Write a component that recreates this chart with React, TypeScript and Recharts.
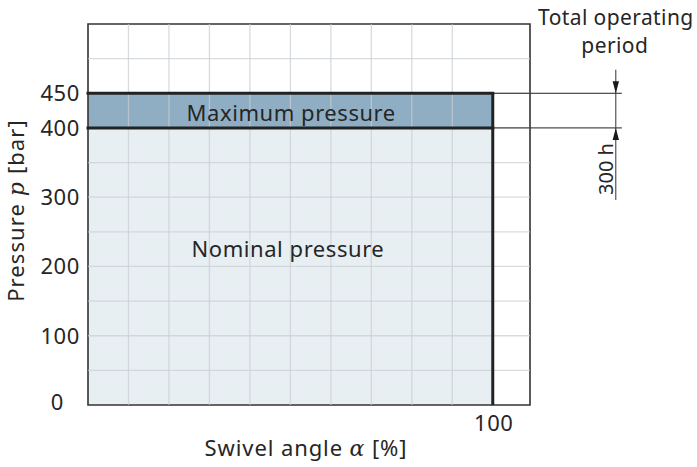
import React from 'react';
import { ComposedChart, Area, XAxis, YAxis, ReferenceLine, ReferenceDot, ReferenceArea, Label } from 'recharts';

// ---- data ----
const swivelAngle = [0, 100];
const nominalPressure = [400, 400];
const maximumPressure = [450, 450];
const yTicks = [0, 100, 200, 300, 400, 450];
const xTicks = [100];
const gridX = [10, 20, 30, 40, 50, 60, 70, 80, 90];
const gridY = [50, 100, 150, 200, 250, 300, 350, 400, 450, 500];
const xDomain = [0, 109.2];
const yDomain = [0, 550];
const regionLabels = [
  { text: 'Maximum pressure', x: 50.2, y: 425 },
  { text: 'Nominal pressure', x: 49.4, y: 228 },
];
const dimX = 130.4;
const dimExtendTo = 131.9;
const dimTop = 484;
const dimBottom = 296;
const periodTitle = ['Total operating', 'period'];
const periodValue = '300 h';

const data = swivelAngle.map((x, i) => ({ x, nominal: nominalPressure[i], max: maximumPressure[i] }));

const FONT = "'Noto Sans', sans-serif";
const TEXT = '#262626';

const YTick = (props: any) => {
  const { x, y, payload } = props;
  const zero = payload.value === 0;
  return (
    <text x={zero ? x - 16 : x} y={zero ? y - 3 : y} dy="0.36em" textAnchor="end" fontSize={22} fill={TEXT} fontFamily={FONT} letterSpacing={0.6}>
      {payload.value}
    </text>
  );
};

const XTick = (props: any) => {
  const { x, y, payload } = props;
  return (
    <text x={x + 1} y={y} dy="0.8em" textAnchor="middle" fontSize={22} fill={TEXT} fontFamily={FONT} letterSpacing={0.6}>
      {payload.value}
    </text>
  );
};

const XLabel = (props: any) => {
  const vb = props.viewBox;
  return (
    <text x={vb.x + vb.width / 2 - 3} y={vb.y + 51} textAnchor="middle" fontSize={22} fill={TEXT} fontFamily={FONT} letterSpacing={0.9}>
      {'Swivel angle '}
      <tspan fontFamily="'DejaVu Serif', serif" fontStyle="italic">α</tspan>
      {' [%]'}
    </text>
  );
};

const YLabel = (props: any) => {
  const vb = props.viewBox;
  const x = vb.x - 4.5;
  const y = 210.5;
  return (
    <text x={x} y={y} textAnchor="middle" fontSize={22} fill={TEXT} fontFamily={FONT} letterSpacing={1.1} transform={`rotate(-90, ${x}, ${y})`}>
      {'Pressure '}
      <tspan fontFamily="'DejaVu Serif', serif" fontStyle="italic">p</tspan>
      {' [bar]'}
    </text>
  );
};

const arrowHead = (x1: number, y1: number, x2: number, y2: number) => {
  const dir = y2 > y1 ? 1 : -1;
  const len = 12;
  const hw = 3.2;
  return <polygon points={`${x2},${y2} ${x2 - hw},${y2 - dir * len} ${x2 + hw},${y2 - dir * len}`} fill="#1a1a1a" />;
};

const TopArrow = (props: any) => {
  const { x1, y1, x2, y2 } = props;
  return (
    <g>
      <line x1={x1} y1={y1} x2={x2} y2={y2} stroke="#333" strokeWidth={1} />
      {arrowHead(x1, y1, x2, y2)}
      <text x={x1} y={y1 - 45} textAnchor="middle" fontSize={21} fill={TEXT} fontFamily={FONT} letterSpacing={0.4}>{periodTitle[0]}</text>
      <text x={x1 - 1} y={y1 - 16.3} textAnchor="middle" fontSize={21} fill={TEXT} fontFamily={FONT} letterSpacing={0.4}>{periodTitle[1]}</text>
    </g>
  );
};

const BottomArrow = (props: any) => {
  const { x1, y1, x2, y2 } = props;
  const tx = x1 - 3;
  const ty = y1 - 31;
  return (
    <g>
      <line x1={x1} y1={y1} x2={x2} y2={y2} stroke="#333" strokeWidth={1} />
      {arrowHead(x1, y1, x2, y2)}
      <text x={tx} y={ty} textAnchor="middle" fontSize={20} fill={TEXT} fontFamily={FONT} transform={`rotate(-90, ${tx}, ${ty})`}>{periodValue}</text>
    </g>
  );
};

export default function App() {
  return (
    <div style={{ position: 'absolute', left: 0, top: 0 }}>
      <ComposedChart width={697} height={467} data={data} margin={{ top: 24, right: 167, bottom: 32, left: 28 }}>
        <XAxis type="number" dataKey="x" domain={xDomain} ticks={xTicks} axisLine={false} tickLine={false} tick={<XTick />} height={30} allowDataOverflow>
          <Label content={<XLabel />} />
        </XAxis>
        <YAxis type="number" domain={yDomain} ticks={yTicks} axisLine={false} tickLine={false} tick={<YTick />} width={60} allowDataOverflow>
          <Label content={<YLabel />} />
        </YAxis>
        <Area dataKey="max" type="linear" fill="#8FAEC4" fillOpacity={1} stroke="none" baseValue={0} isAnimationActive={false} dot={false} activeDot={false} />
        <Area dataKey="nominal" type="linear" fill="#E8EFF3" fillOpacity={1} stroke="none" baseValue={0} isAnimationActive={false} dot={false} activeDot={false} />
        {gridX.map((v) => (
          <ReferenceLine key={'gx' + v} x={v} stroke="#c8cdd1" strokeOpacity={0.7} strokeWidth={1.3} />
        ))}
        {gridY.map((v) => (
          <ReferenceLine key={'gy' + v} y={v} stroke="#c8cdd1" strokeOpacity={0.7} strokeWidth={1.3} />
        ))}
        {regionLabels.map((l) => (
          <ReferenceDot
            key={l.text}
            x={l.x}
            y={l.y}
            r={0}
            shape={(p: any) => (
              <text x={p.cx} y={p.cy} dy={10} textAnchor="middle" fontSize={22} fill={TEXT} fontFamily={FONT} letterSpacing={0.55}>{l.text}</text>
            )}
          />
        ))}
        <ReferenceArea x1={xDomain[0]} x2={xDomain[1]} y1={yDomain[0]} y2={yDomain[1]} fill="none" stroke="#333" strokeWidth={1.6} ifOverflow="visible" />
        <ReferenceLine segment={[{ x: 100, y: maximumPressure[1] }, { x: dimExtendTo, y: maximumPressure[1] }]} stroke="#222" strokeWidth={1} ifOverflow="visible" />
        <ReferenceLine segment={[{ x: 100, y: nominalPressure[1] }, { x: dimExtendTo, y: nominalPressure[1] }]} stroke="#222" strokeWidth={1} ifOverflow="visible" />
        <ReferenceLine segment={[{ x: dimX, y: maximumPressure[1] }, { x: dimX, y: nominalPressure[1] }]} stroke="#333" strokeWidth={1} ifOverflow="visible" />
        <ReferenceLine segment={[{ x: dimX, y: dimTop }, { x: dimX, y: maximumPressure[1] }]} ifOverflow="visible" shape={TopArrow} />
        <ReferenceLine segment={[{ x: dimX, y: dimBottom }, { x: dimX, y: nominalPressure[1] }]} ifOverflow="visible" shape={BottomArrow} />
        <ReferenceLine segment={[{ x: 0, y: maximumPressure[0] }, { x: swivelAngle[1], y: maximumPressure[1] }]} stroke="#222" strokeWidth={3} strokeLinecap="square" ifOverflow="visible" />
        <ReferenceLine segment={[{ x: 0, y: nominalPressure[0] }, { x: swivelAngle[1], y: nominalPressure[1] }]} stroke="#222" strokeWidth={3} strokeLinecap="square" ifOverflow="visible" />
        <ReferenceLine segment={[{ x: swivelAngle[1], y: 0 }, { x: swivelAngle[1], y: maximumPressure[1] }]} stroke="#222" strokeWidth={3} ifOverflow="visible" />
      </ComposedChart>
    </div>
  );
}
